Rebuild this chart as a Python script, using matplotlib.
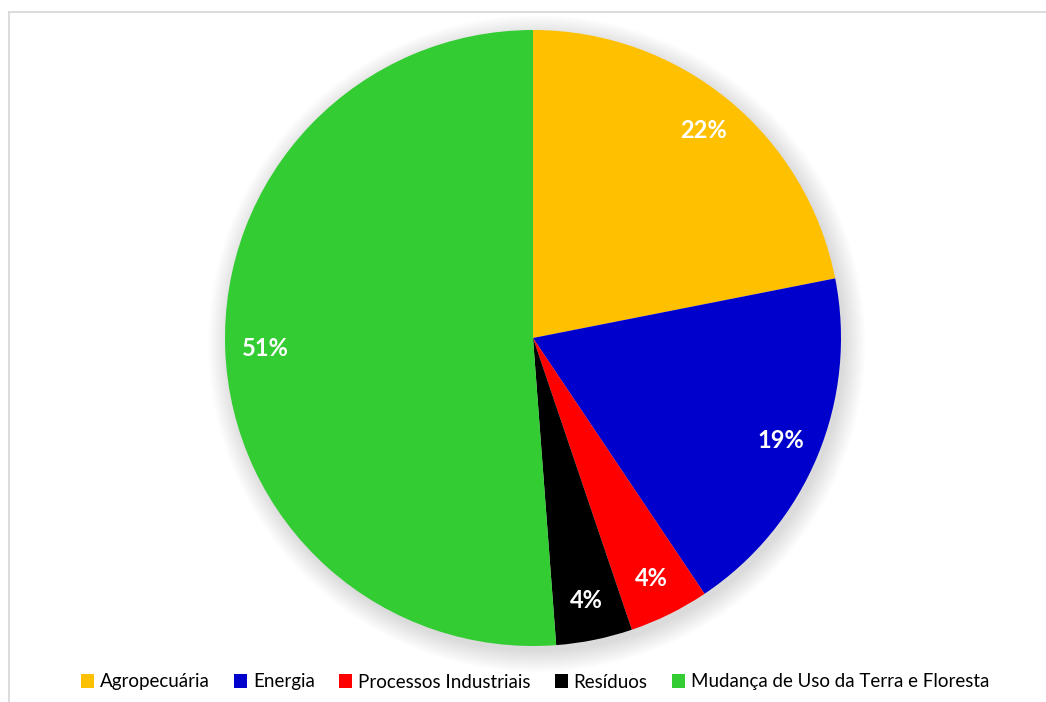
import matplotlib
matplotlib.use("Agg")
import matplotlib.pyplot as plt
from matplotlib.patches import Circle
from matplotlib.lines import Line2D

# Emissões por setor (%)
setores = ["Agropecuária", "Energia", "Processos Industriais", "Resíduos",
           "Mudança de Uso da Terra e Floresta"]
valores = [21.9, 18.7, 4.2, 4.0, 51.2]
cores = ["#FFC000", "#0000CC", "#FF0000", "#000000", "#33CC33"]

plt.rcParams["font.family"] = ["Lato", "DejaVu Sans"]

W, H = 1046, 702
fig = plt.figure(figsize=(W / 100, H / 100), dpi=100)
fig.patch.set_facecolor("white")

# borda da área do gráfico
fig.add_artist(Line2D([9 / W, 1], [1 - 11.5 / H, 1 - 11.5 / H],
                      transform=fig.transFigure, color="#d6d6d6", lw=1.2))
fig.add_artist(Line2D([9 / W, 9 / W], [0, 1 - 11.5 / H],
                      transform=fig.transFigure, color="#d6d6d6", lw=1.2))

cx, cy, R = 533, 338, 308
ax = fig.add_axes([(cx - R) / W, (H - cy - R) / H, 2 * R / W, 2 * R / H])
ax.set_xlim(-1, 1)
ax.set_ylim(-1, 1)
ax.axis("off")

# sombra suave sob a pizza
for i in range(12):
    ax.add_patch(Circle((0.012, -0.018), 1.0 + 0.006 * i, color="black",
                        alpha=0.012, lw=0, zorder=0, clip_on=False))

wedges, _, autotexts = ax.pie(
    valores, colors=cores, startangle=90, counterclock=False, radius=1.0,
    autopct="%1.0f%%", pctdistance=0.87,
    wedgeprops=dict(linewidth=0, zorder=2),
    textprops=dict(color="white", fontsize=17, fontweight="bold"),
)
for t in autotexts:
    t.set_zorder(3)
ax.set_xlim(-1, 1)
ax.set_ylim(-1, 1)

fig.legend(wedges, setores, loc="center", bbox_to_anchor=(535 / W, 1 - 682 / H),
           ncol=5, frameon=False, fontsize=13.5, handlelength=0.7, handleheight=0.7,
           handletextpad=0.3, columnspacing=1.3, borderaxespad=0)

fig.savefig("out.png", dpi=100, facecolor="white")
